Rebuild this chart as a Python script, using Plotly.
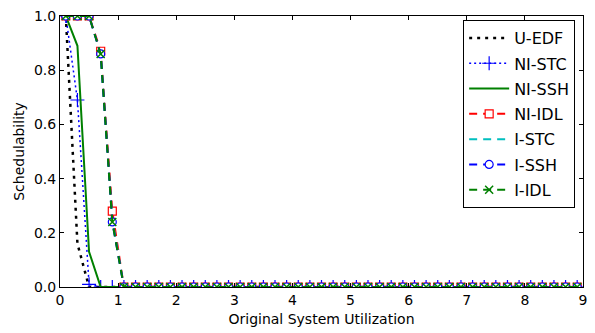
import plotly.graph_objects as go

# x positions (original system utilization)
x_util = [0.1, 0.3, 0.5, 0.7, 0.9, 1.1, 1.3, 1.5, 1.7, 1.9,
          2.1, 2.3, 2.5, 2.7, 2.9, 3.1, 3.3, 3.5, 3.7, 3.9,
          4.1, 4.3, 4.5, 4.7, 4.9, 5.1, 5.3, 5.5, 5.7, 5.9,
          6.1, 6.3, 6.5, 6.7, 6.9, 7.1, 7.3, 7.5, 7.7, 7.9,
          8.1, 8.3, 8.5, 8.7, 8.9]

u_edf  = [1.0, 0.16, 0.0, 0.0, 0.0, 0.0, 0.0, 0.0, 0.0, 0.0,
          0.0, 0.0, 0.0, 0.0, 0.0, 0.0, 0.0, 0.0, 0.0, 0.0,
          0.0, 0.0, 0.0, 0.0, 0.0, 0.0, 0.0, 0.0, 0.0, 0.0,
          0.0, 0.0, 0.0, 0.0, 0.0, 0.0, 0.0, 0.0, 0.0, 0.0,
          0.0, 0.0, 0.0, 0.0, 0.0]
ni_stc = [1.0, 0.69, 0.01, 0.0, 0.0, 0.0, 0.0, 0.0, 0.0, 0.0,
          0.0, 0.0, 0.0, 0.0, 0.0, 0.0, 0.0, 0.0, 0.0, 0.0,
          0.0, 0.0, 0.0, 0.0, 0.0, 0.0, 0.0, 0.0, 0.0, 0.0,
          0.0, 0.0, 0.0, 0.0, 0.0, 0.0, 0.0, 0.0, 0.0, 0.0,
          0.0, 0.0, 0.0, 0.0, 0.0]
ni_ssh = [1.0, 0.89, 0.13, 0.0, 0.0, 0.0, 0.0, 0.0, 0.0, 0.0,
          0.0, 0.0, 0.0, 0.0, 0.0, 0.0, 0.0, 0.0, 0.0, 0.0,
          0.0, 0.0, 0.0, 0.0, 0.0, 0.0, 0.0, 0.0, 0.0, 0.0,
          0.0, 0.0, 0.0, 0.0, 0.0, 0.0, 0.0, 0.0, 0.0, 0.0,
          0.0, 0.0, 0.0, 0.0, 0.0]
ni_idl = [1.0, 1.0, 1.0, 0.87, 0.28, 0.0, 0.0, 0.0, 0.0, 0.0,
          0.0, 0.0, 0.0, 0.0, 0.0, 0.0, 0.0, 0.0, 0.0, 0.0,
          0.0, 0.0, 0.0, 0.0, 0.0, 0.0, 0.0, 0.0, 0.0, 0.0,
          0.0, 0.0, 0.0, 0.0, 0.0, 0.0, 0.0, 0.0, 0.0, 0.0,
          0.0, 0.0, 0.0, 0.0, 0.0]
i_stc  = [1.0, 1.0, 1.0, 0.86, 0.25, 0.0, 0.0, 0.0, 0.0, 0.0,
          0.0, 0.0, 0.0, 0.0, 0.0, 0.0, 0.0, 0.0, 0.0, 0.0,
          0.0, 0.0, 0.0, 0.0, 0.0, 0.0, 0.0, 0.0, 0.0, 0.0,
          0.0, 0.0, 0.0, 0.0, 0.0, 0.0, 0.0, 0.0, 0.0, 0.0,
          0.0, 0.0, 0.0, 0.0, 0.0]
i_ssh  = [1.0, 1.0, 1.0, 0.86, 0.24, 0.0, 0.0, 0.0, 0.0, 0.0,
          0.0, 0.0, 0.0, 0.0, 0.0, 0.0, 0.0, 0.0, 0.0, 0.0,
          0.0, 0.0, 0.0, 0.0, 0.0, 0.0, 0.0, 0.0, 0.0, 0.0,
          0.0, 0.0, 0.0, 0.0, 0.0, 0.0, 0.0, 0.0, 0.0, 0.0,
          0.0, 0.0, 0.0, 0.0, 0.0]
i_idl  = [1.0, 1.0, 1.0, 0.86, 0.24, 0.0, 0.0, 0.0, 0.0, 0.0,
          0.0, 0.0, 0.0, 0.0, 0.0, 0.0, 0.0, 0.0, 0.0, 0.0,
          0.0, 0.0, 0.0, 0.0, 0.0, 0.0, 0.0, 0.0, 0.0, 0.0,
          0.0, 0.0, 0.0, 0.0, 0.0, 0.0, 0.0, 0.0, 0.0, 0.0,
          0.0, 0.0, 0.0, 0.0, 0.0]

x_ticks = [0, 1, 2, 3, 4, 5, 6, 7, 8, 9]
y_ticks = [0.0, 0.2, 0.4, 0.6, 0.8, 1.0]

FONT = "DejaVu Sans"
fig = go.Figure()

fig.add_trace(go.Scatter(x=x_util, y=u_edf, name="U-EDF", mode="lines", legendgroup="a",
                         line=dict(color="black", width=2.5, dash="3px,5px")))
fig.add_trace(go.Scatter(x=x_util, y=ni_stc, name="NI-STC", mode="lines+markers", legendgroup="b",
                         line=dict(color="#0000ff", width=1.5, dash="2px,3px"),
                         marker=dict(symbol="cross-thin", size=10,
                                     line=dict(color="#0000ff", width=1.2))))
fig.add_trace(go.Scatter(x=x_util, y=ni_ssh, name="NI-SSH", mode="lines", legendgroup="c",
                         line=dict(color="#008000", width=2)))
fig.add_trace(go.Scatter(x=x_util, y=ni_idl, name="NI-IDL", mode="lines+markers", legendgroup="d",
                         line=dict(color="#ff0000", width=2, dash="8px,6px"),
                         marker=dict(symbol="square", size=8, color="white",
                                     line=dict(color="#ff0000", width=1.2))))
fig.add_trace(go.Scatter(x=x_util, y=i_stc, name="I-STC", mode="lines", legendgroup="e",
                         line=dict(color="#00bfbf", width=2, dash="8px,6px")))
fig.add_trace(go.Scatter(x=x_util, y=i_ssh, name="I-SSH", mode="lines+markers", legendgroup="f",
                         line=dict(color="#0000ff", width=2, dash="8px,6px"),
                         marker=dict(symbol="circle", size=8, color="white",
                                     line=dict(color="#0000ff", width=1.2))))
fig.add_trace(go.Scatter(x=x_util, y=i_idl, name="I-IDL", mode="lines+markers", legendgroup="g",
                         line=dict(color="#008000", width=2, dash="8px,6px"),
                         marker=dict(symbol="x-thin", size=8,
                                     line=dict(color="#008000", width=1.5))))

axis_common = dict(showline=True, linecolor="black", linewidth=1, mirror="ticks",
                   ticks="inside", ticklen=4, tickcolor="black", tickwidth=1,
                   showgrid=False, zeroline=False,
                   tickfont=dict(family=FONT, size=14, color="black"))

fig.update_xaxes(range=[0, 9], tickvals=x_ticks, ticktext=[str(v) for v in x_ticks],
                 title=dict(text="Original System Utilization",
                            font=dict(family=FONT, size=14, color="black"), standoff=7),
                 **axis_common)
fig.update_yaxes(range=[0, 1], tickvals=y_ticks, ticktext=["%.1f" % v for v in y_ticks],
                 title=dict(text="Schedulability",
                            font=dict(family=FONT, size=14, color="black"), standoff=6),
                 **axis_common)

fig.update_layout(
    width=595, height=333,
    margin=dict(l=60, r=8, t=15, b=45),
    paper_bgcolor="white", plot_bgcolor="white",
    font=dict(family=FONT, color="black"),
    legend=dict(x=0.985, y=0.985, xanchor="right", yanchor="top",
                bgcolor="white", bordercolor="black", borderwidth=1,
                tracegroupgap=1.5, itemwidth=40,
                font=dict(family=FONT, size=16, color="black")),
)

fig.write_html("out.html")
